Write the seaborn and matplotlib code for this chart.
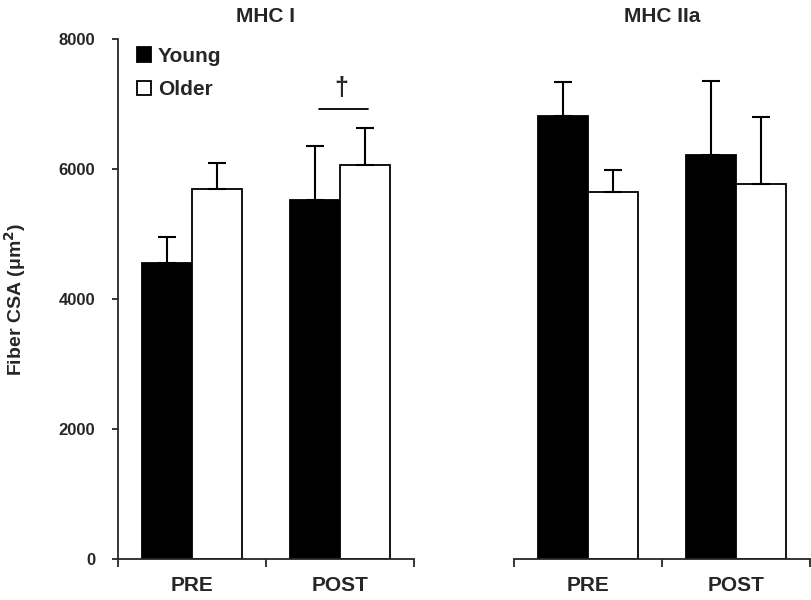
import pandas as pd
import matplotlib.pyplot as plt
import seaborn as sns
from matplotlib.ticker import FixedLocator

sns.set_style("white")
plt.rcParams['font.family'] = ['Liberation Sans', 'DejaVu Sans']
plt.rcParams['font.weight'] = 'bold'

# values (mean and upward SD)
times = ["PRE", "POST"]
groups = ["Young", "Older"]
mhc1_young = [4555, 5520]
mhc1_young_sd = [395, 840]
mhc1_older = [5690, 6060]
mhc1_older_sd = [395, 565]
mhc2a_young = [6815, 6215]
mhc2a_young_sd = [525, 1140]
mhc2a_older = [5650, 5765]
mhc2a_older_sd = [335, 1035]

panels = [
    ("MHC I", mhc1_young, mhc1_young_sd, mhc1_older, mhc1_older_sd),
    ("MHC IIa", mhc2a_young, mhc2a_young_sd, mhc2a_older, mhc2a_older_sd),
]

fig = plt.figure(figsize=(8.12, 6.0), dpi=100)
ax1 = fig.add_axes([0.1453, 0.0683, 0.3645, 0.8667])
ax2 = fig.add_axes([0.633, 0.0683, 0.3645, 0.8667])
axes = [ax1, ax2]

for i, (ax, (title, y_m, y_sd, o_m, o_sd)) in enumerate(zip(axes, panels)):
    df = pd.DataFrame({
        "time": times * 2,
        "group": ["Young"] * 2 + ["Older"] * 2,
        "csa": y_m + o_m,
    })
    sns.barplot(data=df, x="time", y="csa", hue="group", order=times,
                hue_order=groups, palette={"Young": "black", "Older": "white"},
                edgecolor="black", linewidth=1.3, width=0.68, ax=ax,
                legend=(i == 0), errorbar=None)
    # upward-only error bars at the bar tops
    for cont, sds in zip(ax.containers, [y_sd, o_sd]):
        xs = [b.get_x() + b.get_width() / 2 for b in cont]
        hs = [b.get_height() for b in cont]
        ax.errorbar(xs, hs, yerr=[[0] * len(sds), sds], fmt="none",
                    ecolor="black", elinewidth=1.5, capsize=6.5, capthick=1.5)

    ax.set_xlim(-0.5, 1.5)
    ax.set_ylim(0, 8000)
    ax.set_title(title, fontsize=15, fontweight="bold", pad=12)
    ax.set_xlabel("")
    ax.set_ylabel("")
    sns.despine(ax=ax, left=(i == 1))
    ax.spines["bottom"].set_linewidth(1.3)
    ax.spines["left"].set_linewidth(1.3)
    ax.xaxis.set_minor_locator(FixedLocator([-0.5, 0.5, 1.5]))
    ax.tick_params(axis="x", which="major", length=0, pad=12, labelsize=15)
    ax.tick_params(axis="x", which="minor", bottom=True, direction="out",
                   length=6, width=1.3)
    for lab in ax.get_xticklabels():
        lab.set_fontweight("bold")
    if i == 0:
        ax.set_yticks([0, 2000, 4000, 6000, 8000])
        ax.tick_params(axis="y", left=True, direction="out", length=4.5,
                       width=1.3, labelsize=12, pad=12)
        for lab in ax.get_yticklabels():
            lab.set_fontweight("bold")
        ax.set_ylabel("Fiber CSA ($\\mathregular{\\mu}$m$^\\mathbf{2}$)",
                      fontsize=14, fontweight="bold")
    else:
        ax.set_yticks([])

ax1.yaxis.label.set_va("center")
ax1.yaxis.set_label_coords(-0.348, 0.5)

sns.move_legend(ax1, "upper left", bbox_to_anchor=(0.065, 0.985), frameon=False,
                title=None, handlelength=0.68, handleheight=0.68,
                handletextpad=0.3, labelspacing=0.7, borderaxespad=0,
                borderpad=0, prop={"weight": "bold", "size": 15})

# significance marker between POST bars of MHC I
ax1.plot([0.86, 1.19], [6920, 6920], color="black", lw=1.3)
ax1.text(1.01, 7060, "\u2020", ha="center", va="bottom", fontsize=18)

plt.savefig("out.png", dpi=100)
plt.close()
